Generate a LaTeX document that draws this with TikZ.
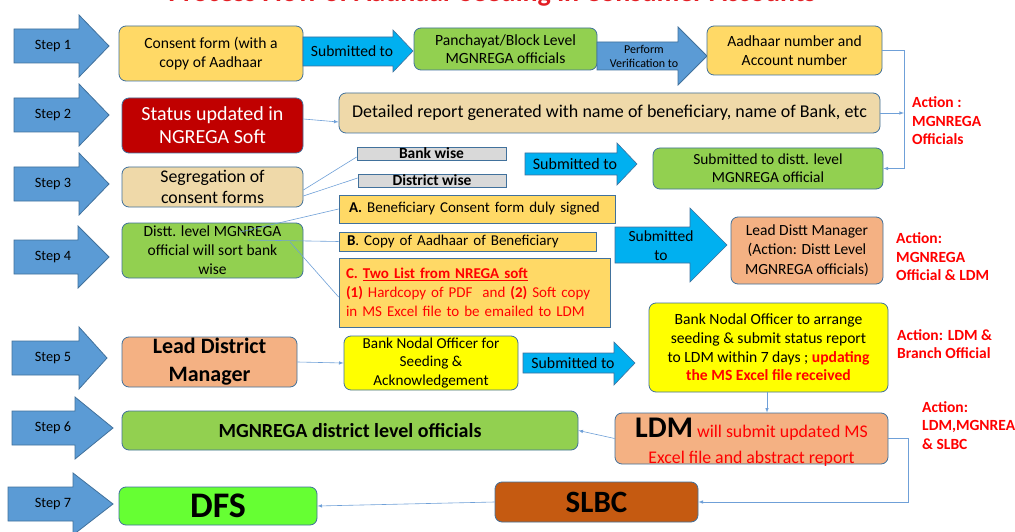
\documentclass[tikz,border=0pt]{standalone}
\usepackage{fontspec}
\setmainfont{Carlito}
\usepackage{tikz}
\usetikzlibrary{positioning}

\definecolor{stepblue}{HTML}{5B9BD5}
\definecolor{edgeblue}{HTML}{41719C}
\definecolor{linkblue}{HTML}{6FA0D8}
\definecolor{subcyan}{HTML}{00B0F0}
\definecolor{gold}{HTML}{FFD966}
\definecolor{leaf}{HTML}{92D050}
\definecolor{darkred}{HTML}{C00000}
\definecolor{parchment}{HTML}{EFD9A9}
\definecolor{greybox}{HTML}{D9D9D9}
\definecolor{salmon}{HTML}{F4B183}
\definecolor{lemon}{HTML}{FFFF00}
\definecolor{lime}{HTML}{66FF33}
\definecolor{rust}{HTML}{C55A11}
\definecolor{actred}{HTML}{FF0000}
\definecolor{titlered}{HTML}{E31E24}

\newcommand\fsz[2]{\fontsize{#1}{#2}\selectfont}

\tikzset{
  box/.style={draw=edgeblue,line width=0.8pt,rounded corners=7pt,align=center,inner sep=0pt,font=\fsz{15.6}{18.5}},
  flat/.style={draw=edgeblue,line width=0.8pt,align=left,inner sep=0pt,font=\fsz{15}{19}},
  wh/.style 2 args={minimum width=#1pt,minimum height=#2pt},
  link/.style={draw=linkblue,line width=0.6pt},
  steparrow/.style={fill=stepblue,draw=edgeblue,line width=0.8pt},
  subarrow/.style={fill=subcyan,draw=edgeblue,line width=0.6pt},
  action/.style={text=actred,font=\fsz{15.5}{18.5}\bfseries,align=left,anchor=west,inner sep=0pt}
}

\begin{document}
\begin{tikzpicture}[x=1pt,y=-1pt]
% page and title
\useasboundingbox (0,0) rectangle (1015,532);
\clip (0,0) rectangle (1015,532);
\fill[white] (0,0) rectangle (1015,532);
\node[anchor=base,text=titlered,font=\fsz{28}{30}\bfseries,inner sep=0pt] (title) at (492,1.5) {Process Flow of Aadhaar Seeding in Consumer Accounts};

% step arrows
\foreach \n/\xa/\xb/\xt/\yc in {1/14/79/109/46,2/14/79/109/115,3/14/79/109/184,4/14/78/109/257,5/12/79/107/358,6/12/75/113/428,7/8/73/113/504}{
  \draw[steparrow] (\xa,\yc-17) -- (\xb,\yc-17) -- (\xb,\yc-31) -- (\xt,\yc) -- (\xb,\yc+31) -- (\xb,\yc+17) -- (\xa,\yc+17) -- cycle;
  \node[font=\fsz{14.3}{16}] (step\n) at (53,\yc) {Step \n};
}

% step 1
\node[box,wh={184}{55},fill=gold] (consent) at (211,53.5) {Consent form (with a\\copy of Aadhaar};
\draw[subarrow] (303,37) -- (393,37) -- (393,30) -- (413,51) -- (393,72) -- (393,66) -- (303,66) -- cycle;
\node[font=\fsz{15.6}{17}] (sub1) at (352,51) {Submitted to};
\node[box,wh={183}{42},fill=leaf] (panch) at (505.5,49) {Panchayat/Block Level\\MGNREGA officials};
\draw[steparrow] (597,42) -- (678,42) -- (678,27) -- (707,56) -- (678,85) -- (678,70) -- (597,70) -- cycle;
\node[font=\fsz{12}{14},align=center] (verif) at (644,56) {Perform\\Verification to};
\node[box,wh={175}{49},fill=gold] (aadhaar) at (794.5,50.5) {Aadhaar number and\\Account number};

% step 2
\node[box,wh={181}{55},fill=darkred,text=white,font=\fsz{20}{23}] (status) at (212.5,125.5) {Status updated in\\NGREGA Soft};
\node[box,wh={541}{40},fill=parchment,font=\fsz{18}{20}] (report) at (609.5,113) {Detailed report generated with name of beneficiary, name of Bank, etc};
\draw[link,-latex] ([yshift=6.5pt]status.east) -- ([yshift=-9pt]report.west);

% step 3
\node[box,wh={181}{40},fill=parchment,font=\fsz{17.8}{21}] (seg) at (212.5,187) {Segregation of\\consent forms};
\node[flat,wh={149}{13},fill=greybox,align=center,font=\fsz{15.5}{15}\bfseries] (bank) at (431.5,153.5) {Bank wise};
\node[flat,wh={148}{13},fill=greybox,align=center,font=\fsz{15.5}{15}\bfseries] (district) at (432,180.5) {District wise};
\draw[link] ([yshift=-3pt]seg.east) -- ([yshift=-3.5pt]bank.west);
\draw[link] ([yshift=-9pt]seg.east) -- ([yshift=2.5pt]district.west);
\draw[subarrow] (525,153) -- (617,153) -- (617,143) -- (637,164) -- (617,185) -- (617,175) -- (525,175) -- cycle;
\node[font=\fsz{16}{17}] (sub3) at (575,164) {Submitted to};
\node[box,wh={230}{41},fill=leaf,font=\fsz{15.4}{18}] (subdist) at (768,168.5) {Submitted to distt. level\\MGNREGA official};
\node[action] (act1) at (912,121) {Action :\\MGNREGA\\Officials};

% step 4
\node[box,wh={181}{55},fill=leaf,font=\fsz{15.5}{19}] (distt) at (212.5,250.5) {Distt. level MGNREGA\\official will sort bank\\wise};
\node[flat,wh={276}{28},fill=gold,text width=256pt,inner xsep=10pt] (boxA) at (477,209) {\textbf{A.} Beneficiary Consent form duly signed};
\node[flat,wh={257}{19},fill=gold,text width=241pt,inner xsep=8pt] (boxB) at (467.5,241.5) {\textbf{B}. Copy of Aadhaar of Beneficiary};
\node[flat,wh={271}{69},fill=gold,text width=257pt,inner xsep=7pt,text=actred] (boxC) at (474.5,292.5) {\textbf{C. \underline{Two List from NREGA soft}}\\\textbf{(1)} Hardcopy of PDF\ \ and \textbf{(2)} Soft copy\\in MS Excel file to be emailed to LDM};
\coordinate (dA) at (240,232);
\coordinate (dB) at (248,240);
\coordinate (dC) at (290,242);
\draw[link] (dA) -- (boxA.west);
\draw[link] (dB) -- (boxB.west);
\draw[link] (dC) -- ([yshift=-4.5pt]boxC.west);
\draw[subarrow] (615,227) -- (690,227) -- (690,208) -- (727,245) -- (690,282) -- (690,263) -- (615,263) -- cycle;
\node[font=\fsz{15.5}{19},align=center] (sub4) at (661,245.5) {Submitted\\to};
\node[box,wh={152}{67},fill=salmon,font=\fsz{15.5}{19.5}] (lead) at (807,250.5) {Lead Distt Manager\\(Action: Distt Level\\MGNREGA officials)};
\node[action] (act4) at (896,257) {Action:\\MGNREGA\\Official \& LDM};

% step 5
\node[box,wh={175}{50},fill=salmon,font=\fsz{22}{28}\bfseries] (ldmgr) at (209.5,362) {Lead District\\Manager};
\node[box,wh={174}{54},fill=lemon,font=\fsz{15.2}{18.5}] (nodal) at (431,363) {Bank Nodal Officer for\\Seeding \&\\Acknowledgement};
\draw[link,-latex] (ldmgr.east) -- (nodal.west);
\draw[subarrow] (523,353) -- (614,353) -- (614,342) -- (635,363) -- (614,385) -- (614,373) -- (523,373) -- cycle;
\node[font=\fsz{15.8}{17}] (sub5) at (573,363) {Submitted to};
\node[box,wh={239}{89},fill=lemon,font=\fsz{15.6}{18.7}] (arrange) at (768.5,347.5) {Bank Nodal Officer to arrange\\seeding \& submit status report\\to LDM within 7 days ; \textcolor{actred}{\bfseries updating}\\\textcolor{actred}{\bfseries the MS Excel file received}};
\node[action] (act5) at (897,344) {Action: LDM \&\\Branch Official};

% step 6
\node[box,wh={273}{51},fill=salmon,font=\fsz{17.8}{26},text height=50pt,text depth=1pt] (ldm) at (751.5,438.5) {{\fsz{30}{26}\bfseries LDM} \textcolor{actred}{will submit updated MS}\\\textcolor{actred}{Excel file and abstract report}};
\node[box,wh={456}{39},fill=leaf,font=\fsz{20}{22}\bfseries] (mgn) at (350,430.5) {MGNREGA district level officials};
\draw[link,-latex] (arrange.south -| 767,0) -- (ldm.north -| 767,0);
\draw[link,-latex] (ldm.west) -- (mgn.east);
\node[action] (act6) at (922,425.5) {Action:\\LDM,MGNREA\\\& SLBC};

% step 7
\node[box,wh={198}{38},fill=lime,font=\fsz{36}{38}\bfseries] (dfs) at (218,506) {DFS};
\node[box,wh={203}{40},fill=rust,font=\fsz{31}{33}\bfseries] (slbc) at (596.5,502) {SLBC};
\draw[link,-latex] (slbc.west) -- (dfs.east);

% rails on the right
\coordinate (railA) at (904,0);
\coordinate (railB) at (908,0);
\draw[link,-latex] (aadhaar.east) -- (aadhaar.east -| railA) |- (subdist.east);
\draw[link,-latex] (report.east) -- (report.east -| railA);
\draw[link,-latex] (ldm.east) -- (ldm.east -| railB) |- (slbc.east);
\end{tikzpicture}
\end{document}
